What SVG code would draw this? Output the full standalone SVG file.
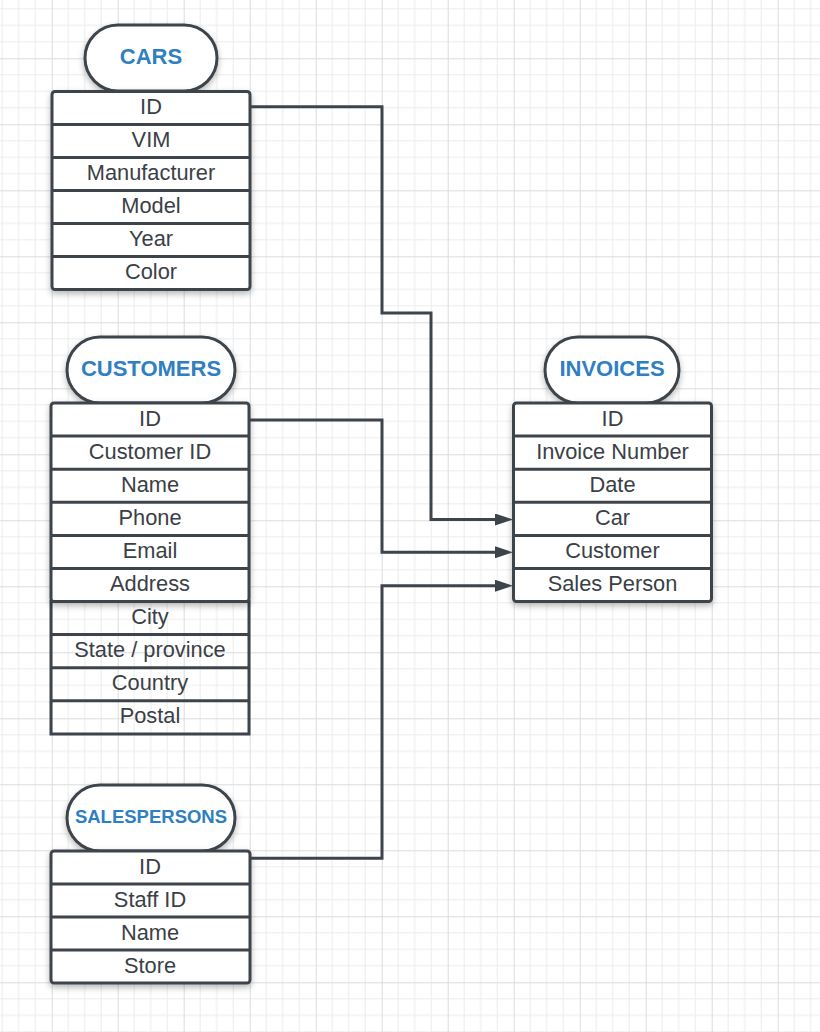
<svg xmlns="http://www.w3.org/2000/svg" width="820" height="1032" viewBox="0 0 820 1032">
<defs>
<pattern id="grid" patternUnits="userSpaceOnUse" x="51.7" y="58.3" width="66" height="66">
<rect x="0" y="0" width="66" height="66" fill="#ffffff"/>
<g fill="#ececec">
<rect x="16" y="0" width="1" height="66"/><rect x="32.5" y="0" width="1" height="66"/><rect x="49" y="0" width="1" height="66"/>
<rect x="0" y="16" width="66" height="1"/><rect x="0" y="32.5" width="66" height="1"/><rect x="0" y="49" width="66" height="1"/>
</g>
<g fill="#dcdcdc">
<rect x="0" y="0" width="1" height="66"/><rect x="0" y="0" width="66" height="1"/>
</g>
</pattern>
<filter id="sh" x="-10%" y="-10%" width="120%" height="130%">
<feDropShadow dx="0" dy="3" stdDeviation="3" flood-color="#000" flood-opacity="0.28"/>
</filter>
<marker id="arr" markerUnits="userSpaceOnUse" viewBox="0 0 18 12" markerWidth="18" markerHeight="12" refX="1" refY="6" orient="auto">
<path d="M0,0 L18,6 L0,12 z" fill="#3d444c"/>
</marker>
<style>
.pill{fill:#ffffff;stroke:#3d444c;stroke-width:3;filter:url(#sh)}
.tbl{fill:#ffffff;stroke:#3d444c;stroke-width:3;filter:url(#sh)}
.open{fill:none;stroke:#3d444c;stroke-width:3}
.div{stroke:#3d444c;stroke-width:3}
.hd{font-family:"Liberation Sans",Arial,sans-serif;font-weight:bold;font-size:22px;fill:#2f7fc1;text-anchor:middle}
.hds{font-family:"Liberation Sans",Arial,sans-serif;font-weight:bold;font-size:18.5px;fill:#2f7fc1;text-anchor:middle}
.f{font-family:"Liberation Sans",Arial,sans-serif;font-size:21.8px;fill:#3a4047;text-anchor:middle}
.con{fill:none;stroke:#3d444c;stroke-width:3}
</style>
</defs>
<rect x="0" y="0" width="820" height="1032" fill="url(#grid)"/>

<g id="cars">
<rect class="pill" x="85" y="25" width="132" height="66" rx="33"/>
<text class="hd" x="151" y="63.5">CARS</text>
<rect class="tbl" x="52" y="91.5" width="198" height="198" rx="3"/>
<line class="div" x1="52" y1="124.5" x2="250" y2="124.5"/>
<line class="div" x1="52" y1="157.5" x2="250" y2="157.5"/>
<line class="div" x1="52" y1="190.5" x2="250" y2="190.5"/>
<line class="div" x1="52" y1="223.5" x2="250" y2="223.5"/>
<line class="div" x1="52" y1="256.5" x2="250" y2="256.5"/>
<text class="f" x="151" y="114">ID</text>
<text class="f" x="151" y="147">VIM</text>
<text class="f" x="151" y="180">Manufacturer</text>
<text class="f" x="151" y="213">Model</text>
<text class="f" x="151" y="246">Year</text>
<text class="f" x="151" y="279">Color</text>
</g>

<g id="customers">
<rect class="pill" x="67" y="337" width="168" height="66" rx="33"/>
<text class="hd" x="151" y="375.5">CUSTOMERS</text>
<rect class="open" x="51" y="601.5" width="198" height="132.5"/>
<line class="div" x1="51" y1="634.6" x2="249" y2="634.6"/>
<line class="div" x1="51" y1="667.7" x2="249" y2="667.7"/>
<line class="div" x1="51" y1="700.8" x2="249" y2="700.8"/>
<rect class="tbl" x="51" y="403" width="198" height="198.6" rx="3"/>
<line class="div" x1="51" y1="436.1" x2="249" y2="436.1"/>
<line class="div" x1="51" y1="469.2" x2="249" y2="469.2"/>
<line class="div" x1="51" y1="502.3" x2="249" y2="502.3"/>
<line class="div" x1="51" y1="535.4" x2="249" y2="535.4"/>
<line class="div" x1="51" y1="568.5" x2="249" y2="568.5"/>
<text class="f" x="150" y="425.5">ID</text>
<text class="f" x="150" y="458.6">Customer ID</text>
<text class="f" x="150" y="491.7">Name</text>
<text class="f" x="150" y="524.8">Phone</text>
<text class="f" x="150" y="557.9">Email</text>
<text class="f" x="150" y="591">Address</text>
<text class="f" x="150" y="624.1">City</text>
<text class="f" x="150" y="657.2">State / province</text>
<text class="f" x="150" y="690.3">Country</text>
<text class="f" x="150" y="723.4">Postal</text>
</g>

<g id="invoices">
<rect class="pill" x="545" y="337" width="134" height="66" rx="33"/>
<text class="hd" x="612" y="375.5">INVOICES</text>
<rect class="tbl" x="513.5" y="403" width="198" height="198.6" rx="3"/>
<line class="div" x1="513.5" y1="436.1" x2="711.5" y2="436.1"/>
<line class="div" x1="513.5" y1="469.2" x2="711.5" y2="469.2"/>
<line class="div" x1="513.5" y1="502.3" x2="711.5" y2="502.3"/>
<line class="div" x1="513.5" y1="535.4" x2="711.5" y2="535.4"/>
<line class="div" x1="513.5" y1="568.5" x2="711.5" y2="568.5"/>
<text class="f" x="612.5" y="425.5">ID</text>
<text class="f" x="612.5" y="458.6">Invoice Number</text>
<text class="f" x="612.5" y="491.7">Date</text>
<text class="f" x="612.5" y="524.8">Car</text>
<text class="f" x="612.5" y="557.9">Customer</text>
<text class="f" x="612.5" y="591">Sales Person</text>
</g>

<g id="salespersons">
<rect class="pill" x="67" y="785" width="168" height="66" rx="33"/>
<text class="hds" x="151" y="822.5">SALESPERSONS</text>
<rect class="tbl" x="51" y="851" width="199" height="132" rx="3"/>
<line class="div" x1="51" y1="884" x2="250" y2="884"/>
<line class="div" x1="51" y1="917" x2="250" y2="917"/>
<line class="div" x1="51" y1="950" x2="250" y2="950"/>
<text class="f" x="150" y="873.5">ID</text>
<text class="f" x="150" y="906.5">Staff ID</text>
<text class="f" x="150" y="939.5">Name</text>
<text class="f" x="150" y="972.5">Store</text>
</g>

<g id="connectors">
<path class="con" d="M250,106.7 H382 V313 H431 V519.5 H496" marker-end="url(#arr)"/>
<path class="con" d="M249,420 H382 V552.3 H496" marker-end="url(#arr)"/>
<path class="con" d="M250,858.3 H382 V585.7 H496" marker-end="url(#arr)"/>
</g>
</svg>
